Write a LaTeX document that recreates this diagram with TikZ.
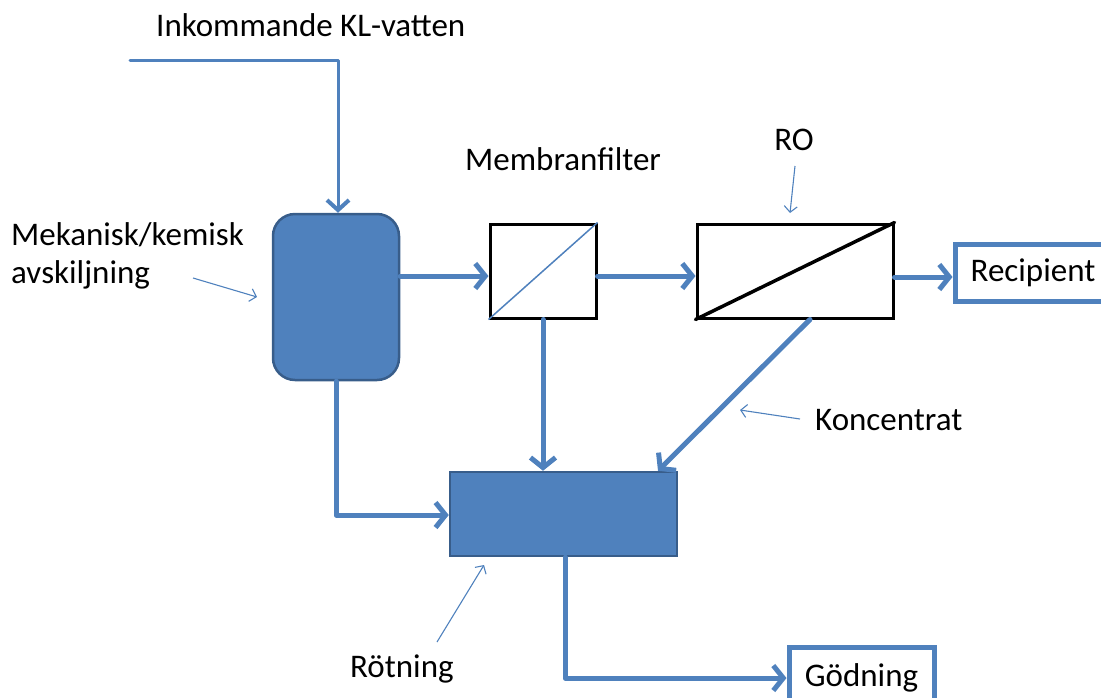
\documentclass[tikz,border=0pt]{standalone}
\usepackage{fontspec}
\setmainfont{Carlito}
\usetikzlibrary{arrows.meta}
\definecolor{flow}{HTML}{4F81BD}
\definecolor{flowdark}{HTML}{385D8A}
\tikzset{
  pipe/.style={draw=flow, line width=5pt, line cap=round, line join=round,
    -{Straight Barb[length=10pt, width=25pt, line width=5pt]}},
  thinpipe/.style={draw=flow, line width=3pt, line cap=round, line join=round,
    -{Straight Barb[length=10pt, width=22pt, line width=4pt]}},
  pointer/.style={draw=flow, line width=1.1pt,
    -{Straight Barb[length=6pt, width=13pt, line width=1.1pt]}},
  tank/.style={draw=flowdark, fill=flow, line width=2.5pt, inner sep=0pt},
  filterbox/.style={draw=black, fill=white, line width=3pt, inner sep=0pt},
  outbox/.style={draw=flow, fill=white, line width=5pt, inner sep=0pt},
  lbl/.style={inner sep=0pt, font=\fontsize{33}{38}\selectfont}
}
\begin{document}
\begin{tikzpicture}[x=1pt, y=-1pt]
  \useasboundingbox (0,0) rectangle (1101,697);
  \clip (0,0) rectangle (1101,697);

  % process units
  \node[tank, rounded corners=22pt, minimum width=126pt, minimum height=166pt] (mech) at (336,297) {};
  \node[filterbox, minimum width=106pt, minimum height=94pt] (mem) at (543,271) {};
  \node[filterbox, minimum width=196pt, minimum height=94pt] (ro) at (795,271) {};
  \node[tank, minimum width=227pt, minimum height=84pt] (rot) at (563.5,514) {};
  \node[outbox, lbl, minimum width=156pt, minimum height=57pt] (rec) at (1033,272.5) {Recipient};
  \node[outbox, lbl, minimum width=145pt, minimum height=62pt] (god) at (861.5,678) {Gödning};

  % membrane diagonals
  \draw[flow, line width=1.5pt] (mem.south west) -- (mem.north east);
  \draw[black, line width=3.5pt, line cap=round] (ro.south west) -- (ro.north east);

  % main flow
  \coordinate (inlet) at (130,60);
  \draw[thinpipe] (inlet) -- (338,60) -- (mech.north -| 338,0);
  \draw[pipe] (mech.east |- 0,276) -- (mem.west |- 0,276);
  \draw[pipe] (mem.east |- 0,276) -- (ro.west |- 0,276);
  \draw[pipe] (ro.east |- 0,277) -- (rec.west |- 0,277);
  \draw[pipe] (mem.south) -- (mem.south |- rot.north);
  \draw[pipe] (ro.south -| 810,0) -- (rot.north -| 658,0);
  \draw[pipe] (mech.south) |- (rot.west |- 0,515);
  \draw[pipe] (rot.south -| 565,0) |- (god.west);

  % labels
  \node[lbl, anchor=base west] (tin) at (156,36) {Inkommande KL-vatten};
  \node[lbl, anchor=base west] (tmem) at (465,170) {Membranfilter};
  \node[lbl, anchor=base] (tro) at (794,150) {RO};
  \node[lbl, anchor=base west] (tmek1) at (11,245) {Mekanisk/kemisk};
  \node[lbl, anchor=base west] (tmek2) at (11,283) {avskiljning};
  \node[lbl, anchor=base west] (tkon) at (815,430) {Koncentrat};
  \node[lbl, anchor=base west] (trot) at (350,677) {Rötning};

  % label pointers
  \coordinate (pro) at (795,166);
  \coordinate (pmek) at (193,278);
  \coordinate (pkon) at (800,419);
  \coordinate (prot) at (437,642);
  \draw[pointer] (pro) -- (790,213);
  \draw[pointer] (pmek) -- (257,297);
  \draw[pointer] (pkon) -- (740,410);
  \draw[pointer] (prot) -- (484,565);
\end{tikzpicture}
\end{document}
